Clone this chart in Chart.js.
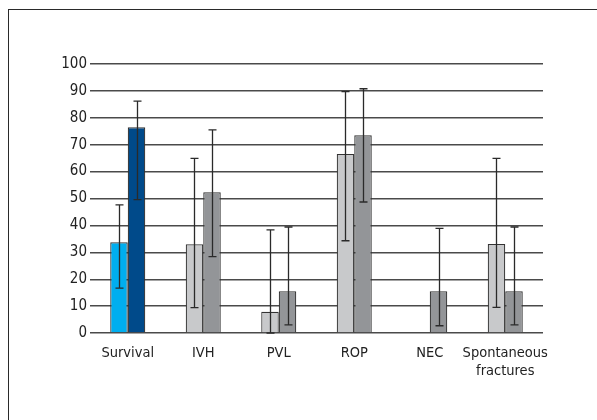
<!DOCTYPE html>
<html>
<head>
<meta charset="utf-8">
<script src="https://cdn.jsdelivr.net/npm/chart.js@4/dist/chart.umd.min.js"></script>
<style>
  html, body { margin: 0; padding: 0; background: #fff; }
  #wrap { position: relative; width: 597px; height: 420px; overflow: hidden; }
  #frame { position: absolute; left: 8px; top: 9px; width: 700px; height: 500px;
           border-left: 1.5px solid #2a2a2a; border-top: 1.5px solid #2a2a2a; }
  canvas { position: absolute; left: 0; top: 0; }
</style>
</head>
<body>
<div id="wrap">
  <div id="frame"></div>
  <canvas id="c" width="597" height="420"></canvas>
</div>
<script>
const categories = ['Survival', 'IVH', 'PVL', 'ROP', 'NEC', ['Spontaneous', 'fractures']];
const groupA = [33.7, 33.0, 7.9, 66.5, null, 33.1];
const groupALow = [16.7, 9.4, 0, 34.3, null, 9.5];
const groupAHigh = [47.6, 64.9, 38.3, 89.7, null, 64.9];
const groupB = [76.5, 52.3, 15.5, 73.5, 15.5, 15.5];
const groupBLow = [49.6, 28.4, 3.0, 48.7, 2.7, 3.0];
const groupBHigh = [86.2, 75.5, 39.4, 90.8, 38.9, 39.4];
const yTicks = [0, 10, 20, 30, 40, 50, 60, 70, 80, 90, 100];

const colorsA = ['#00aeef', '#c8c9cb', '#c8c9cb', '#c8c9cb', '#c8c9cb', '#c8c9cb'];
const colorsB = ['#004a8a', '#939598', '#939598', '#939598', '#939598', '#939598'];

const errorBars = {
  id: 'errorBars',
  afterDatasetsDraw(chart) {
    const ctx = chart.ctx;
    const ys = chart.scales.y;
    const ranges = [[groupALow, groupAHigh], [groupBLow, groupBHigh]];
    ctx.save();
    ctx.strokeStyle = '#2a2a2a';
    ctx.lineWidth = 1.3;
    chart.data.datasets.forEach((ds, di) => {
      const meta = chart.getDatasetMeta(di);
      meta.data.forEach((bar, i) => {
        const lo = ranges[di][0][i], hi = ranges[di][1][i];
        if (lo === null || hi === null) return;
        const x = Math.round(bar.x) + 0.5;
        const y1 = ys.getPixelForValue(lo), y2 = ys.getPixelForValue(hi);
        ctx.beginPath();
        ctx.moveTo(x, y1); ctx.lineTo(x, y2);
        ctx.moveTo(x - 4, y1); ctx.lineTo(x + 4, y1);
        ctx.moveTo(x - 4, y2); ctx.lineTo(x + 4, y2);
        ctx.stroke();
      });
    });
    ctx.restore();
  }
};

const FONT = "'Liberation Sans Narrow', 'DejaVu Sans Condensed', 'Roboto', sans-serif";

new Chart(document.getElementById('c'), {
  type: 'bar',
  data: {
    labels: categories,
    datasets: [
      { data: groupA, backgroundColor: colorsA, borderColor: '#333', borderWidth: 1.2,
        categoryPercentage: 0.464, barPercentage: 1 },
      { data: groupB, backgroundColor: colorsB, borderColor: '#333', borderWidth: 1.2,
        categoryPercentage: 0.464, barPercentage: 1 }
    ]
  },
  options: {
    responsive: false,
    animation: false,
    devicePixelRatio: 1,
    layout: { padding: { left: 0, right: 54, top: 64, bottom: 0 } },
    plugins: { legend: { display: false }, tooltip: { enabled: false } },
    scales: {
      x: {
        grid: { display: false },
        border: { display: false },
        ticks: { color: '#222', font: { family: FONT, size: 14.5 }, padding: 4, maxRotation: 0, autoSkip: false },
        afterFit(s) { s.height = 87; }
      },
      y: {
        min: 0, max: 100,
        afterBuildTicks(s) { s.ticks = yTicks.map(v => ({ value: v })); },
        grid: { color: '#4a4a4a', lineWidth: 1.4, drawTicks: false },
        border: { display: false },
        ticks: { color: '#222', font: { family: FONT, size: 15 }, padding: 3 },
        afterFit(s) { s.width = 90; }
      }
    }
  },
  plugins: [errorBars]
});
</script>
</body>
</html>
